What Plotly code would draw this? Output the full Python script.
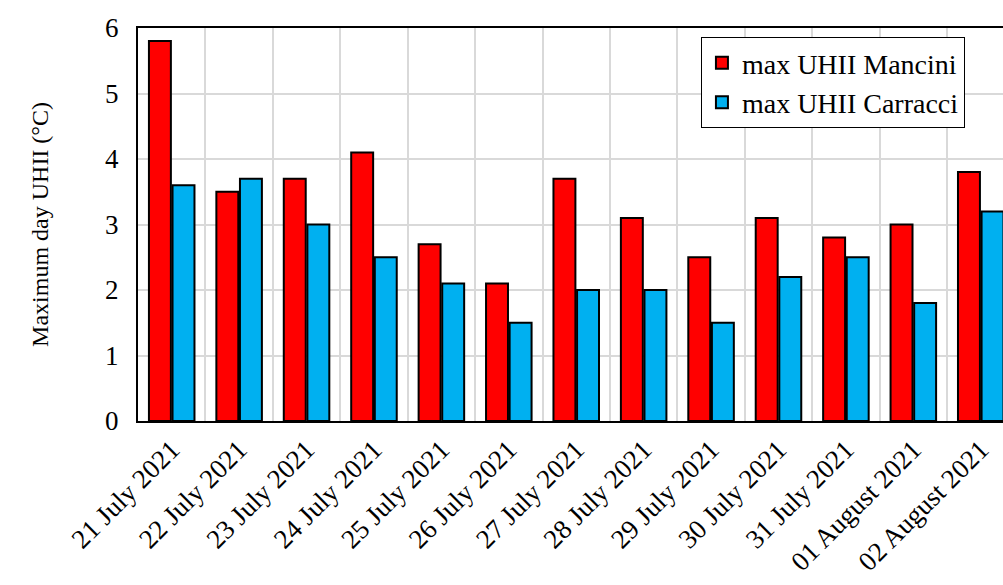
import plotly.graph_objects as go

# Daily maximum urban heat island intensity at two stations
dates = ["21 July 2021", "22 July 2021", "23 July 2021", "24 July 2021",
         "25 July 2021", "26 July 2021", "27 July 2021", "28 July 2021",
         "29 July 2021", "30 July 2021", "31 July 2021", "01 August 2021",
         "02 August 2021"]
mancini = [5.8, 3.5, 3.7, 4.1, 2.7, 2.1, 3.7, 3.1, 2.5, 3.1, 2.8, 3.0, 3.8]
carracci = [3.6, 3.7, 3.0, 2.5, 2.1, 1.5, 2.0, 2.0, 1.5, 2.2, 2.5, 1.8, 3.2]

FONT = "Liberation Serif, Times New Roman, serif"

fig = go.Figure()
fig.add_trace(go.Bar(
    x=dates, y=mancini, name="max UHII Mancini",
    marker=dict(color="#FF0000", line=dict(color="black", width=2)),
))
fig.add_trace(go.Bar(
    x=dates, y=carracci, name="max UHII Carracci",
    marker=dict(color="#00B0F0", line=dict(color="black", width=2)),
))

fig.update_layout(
    width=1003, height=585,
    margin=dict(l=138, r=0, t=28, b=164),
    paper_bgcolor="white", plot_bgcolor="white",
    barmode="group", bargap=0.30, bargroupgap=0.07,
    font=dict(family=FONT, color="black", size=24),
    legend=dict(
        x=0.956, y=0.977, xanchor="right", yanchor="top",
        bgcolor="white", bordercolor="black", borderwidth=1,
        font=dict(family=FONT, size=28, color="black"),
        itemwidth=30, tracegroupgap=0,
    ),
    showlegend=True,
)

fig.update_xaxes(
    type="category",
    range=[-0.5, 12.33],
    tickson="boundaries",
    showgrid=True, gridcolor="#D9D9D9", gridwidth=1.5,
    showline=True, linecolor="black", linewidth=2, mirror=True,
    ticks="", tickangle=-45,
    tickfont=dict(family=FONT, size=27, color="black"),
)
fig.update_yaxes(
    range=[0, 6], dtick=1,
    showgrid=True, gridcolor="#D9D9D9", gridwidth=1.5,
    showline=True, linecolor="black", linewidth=2,
    zeroline=False, ticks="",
    ticklabelstandoff=12,
    tickfont=dict(family=FONT, size=27, color="black"),
    title=dict(text="Maximum day UHII (°C)", standoff=50,
               font=dict(family=FONT, size=24, color="black")),
)

fig.write_html("out.html")
